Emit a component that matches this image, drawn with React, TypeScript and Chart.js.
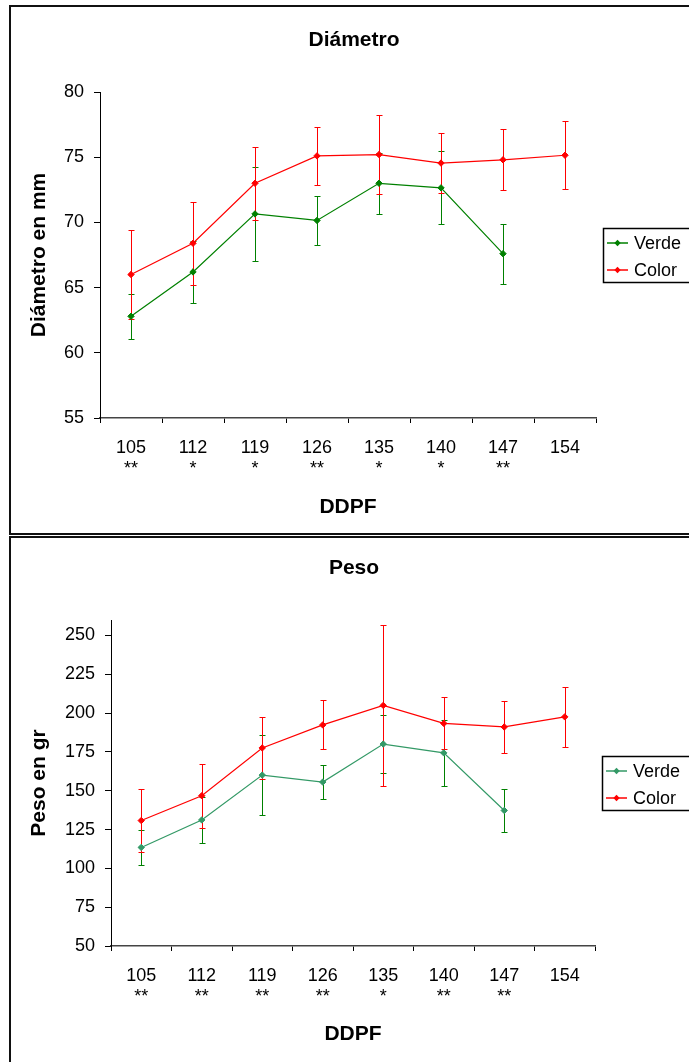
import React, { useEffect, useRef } from 'react';
import { Chart, registerables } from 'chart.js';

Chart.register(...registerables);

const FONT = "'Liberation Sans', Arial, sans-serif";

// ---------- DATA ----------
const categories = ['105', '112', '119', '126', '135', '140', '147', '154'];

// Diámetro (mm)
const diamSignif = ['**', '*', '*', '**', '*', '*', '**', ''];
const diamVerde = [62.8, 66.2, 70.65, 70.15, 73.0, 72.65, 67.6, null];
const diamVerdeErr = [1.73, 2.4, 3.6, 1.9, 2.35, 2.8, 2.3, null];
const diamColor = [66.0, 68.4, 73.0, 75.1, 75.2, 74.55, 74.8, 75.15];
const diamColorErr = [3.4, 3.2, 2.8, 2.2, 3.0, 2.3, 2.33, 2.6];
const diamTicks = [55, 60, 65, 70, 75, 80];

// Peso (gr)
const pesoSignif = ['**', '**', '**', '**', '*', '**', '**', ''];
const pesoVerde = [113.5, 131.2, 160.1, 155.6, 180.1, 174.4, 137.3, null];
const pesoVerdeErr = [11.3, 15.0, 26.0, 11.0, 18.5, 21.4, 14.1, null];
const pesoColor = [130.8, 146.8, 177.6, 192.4, 205.0, 193.4, 191.1, 197.6];
const pesoColorErr = [20.2, 20.7, 20.0, 15.8, 51.7, 16.7, 16.8, 19.5];
const pesoTicks = [50, 75, 100, 125, 150, 175, 200, 225, 250];

// ---------- PLUGINS ----------
const errorBarPlugin = {
  id: 'errorBars',
  beforeDatasetsDraw(chart: any) {
    const ctx = chart.ctx;
    const yScale = chart.scales.y;
    chart.data.datasets.forEach((ds: any, i: number) => {
      const meta = chart.getDatasetMeta(i);
      const errs = ds.errors || [];
      ctx.save();
      ctx.strokeStyle = ds.errorColor || ds.borderColor;
      ctx.lineWidth = 1;
      meta.data.forEach((pt: any, j: number) => {
        const v = ds.data[j];
        const e = errs[j];
        if (v == null || e == null) return;
        const x = Math.round(pt.x) + 0.5;
        const yt = Math.round(yScale.getPixelForValue(v + e)) + 0.5;
        const yb = Math.round(yScale.getPixelForValue(v - e)) + 0.5;
        ctx.beginPath();
        ctx.moveTo(x, yt);
        ctx.lineTo(x, yb);
        ctx.moveTo(x - 3, yt);
        ctx.lineTo(x + 3, yt);
        ctx.moveTo(x - 3, yb);
        ctx.lineTo(x + 3, yb);
        ctx.stroke();
      });
      ctx.restore();
    });
  },
};

const decorPlugin = {
  id: 'decor',
  afterDraw(chart: any, _args: any, opts: any) {
    const ctx = chart.ctx;
    const area = chart.chartArea;
    ctx.save();
    // chart title
    ctx.fillStyle = '#000';
    ctx.font = `bold 21px ${FONT}`;
    ctx.textAlign = 'center';
    ctx.textBaseline = 'middle';
    ctx.fillText(opts.title, opts.titleX, area.top - 52);

    // legend
    const lx = Math.round(area.right + 7);
    const ly = Math.round(area.top + 136);
    ctx.strokeStyle = '#000';
    ctx.lineWidth = 1.5;
    ctx.strokeRect(lx + 0.5, ly + 0.5, 140, 54);
    chart.data.datasets.forEach((ds: any, i: number) => {
      const cy = ly + 15 + i * 27;
      ctx.strokeStyle = ds.borderColor;
      ctx.lineWidth = 1.5;
      ctx.beginPath();
      ctx.moveTo(lx + 4, cy);
      ctx.lineTo(lx + 25, cy);
      ctx.stroke();
      ctx.fillStyle = ds.pointBackgroundColor;
      ctx.beginPath();
      const mx = lx + 14.5;
      ctx.moveTo(mx, cy - 3.2);
      ctx.lineTo(mx + 3.2, cy);
      ctx.lineTo(mx, cy + 3.2);
      ctx.lineTo(mx - 3.2, cy);
      ctx.closePath();
      ctx.fill();
      ctx.fillStyle = '#000';
      ctx.font = `18px ${FONT}`;
      ctx.textAlign = 'left';
      ctx.textBaseline = 'middle';
      ctx.fillText(ds.label, lx + 31, cy + 1);
    });
    ctx.restore();
  },
};

// ---------- CONFIG BUILDER ----------
function buildConfig(p: any) {
  const labels = categories.map((c, i) => (p.signif[i] ? [c, p.signif[i]] : c));
  const mkDs = (label: string, data: any[], errors: any[], color: string, errColor: string) => ({
    label,
    data,
    errors,
    errorColor: errColor,
    borderColor: color,
    backgroundColor: color,
    pointBackgroundColor: color,
    pointBorderColor: color,
    pointStyle: 'rectRot',
    pointRadius: 3.2,
    pointBorderWidth: 1,
    borderWidth: 1.2,
    tension: 0,
    spanGaps: false,
  });
  return {
    type: 'line',
    data: {
      labels,
      datasets: [
        mkDs('Verde', p.verde, p.verdeErr, p.verdeColor, '#008000'),
        mkDs('Color', p.color, p.colorErr, '#FF0000', '#FF0000'),
      ],
    },
    plugins: [errorBarPlugin, decorPlugin],
    options: {
      responsive: false,
      animation: false,
      events: [],
      layout: { padding: p.padding },
      plugins: {
        legend: { display: false },
        tooltip: { enabled: false },
        title: { display: false },
        decor: { title: p.title, titleX: p.titleX },
      },
      scales: {
        x: {
          type: 'category',
          offset: true,
          afterFit: (s: any) => {
            s.height = p.xHeight;
          },
          grid: { offset: true, drawOnChartArea: false, drawTicks: true, tickLength: 5, color: '#000', lineWidth: 1 },
          border: { display: true, color: '#444', width: 1.5 },
          ticks: { color: '#000', font: { family: FONT, size: 18 }, padding: 14, maxRotation: 0, autoSkip: false },
          title: {
            display: true,
            text: 'DDPF',
            color: '#000',
            font: { family: FONT, size: 21, weight: 'bold' },
            padding: { top: 0, bottom: 0 },
          },
        },
        y: {
          min: p.min,
          max: p.max,
          afterBuildTicks: (s: any) => {
            s.ticks = p.ticks.map((v: number) => ({ value: v }));
          },
          afterFit: (s: any) => {
            s.width = p.yWidth;
          },
          grid: { drawOnChartArea: false, drawTicks: true, tickLength: 6, color: '#000', lineWidth: 1 },
          border: { display: true, color: '#000', width: 1 },
          ticks: { color: '#000', font: { family: FONT, size: 18 }, padding: 10 },
          title: {
            display: true,
            text: p.yTitle,
            color: '#000',
            font: { family: FONT, size: 21, weight: 'bold' },
            padding: { top: 27, bottom: 0 },
          },
        },
      },
    },
  };
}

function ChartCanvas({ params, width, height, top }: any) {
  const ref = useRef<HTMLCanvasElement>(null);
  useEffect(() => {
    const chart = new Chart(ref.current as HTMLCanvasElement, buildConfig(params) as any);
    return () => chart.destroy();
  }, []);
  return (
    <canvas
      ref={ref}
      width={width}
      height={height}
      style={{ position: 'absolute', left: 0, top, width, height, display: 'block' }}
    />
  );
}

const diamParams = {
  title: 'Diámetro',
  titleX: 354,
  yTitle: 'Diámetro en mm',
  verde: diamVerde,
  verdeErr: diamVerdeErr,
  verdeColor: '#008000',
  color: diamColor,
  colorErr: diamColorErr,
  signif: diamSignif,
  ticks: diamTicks,
  min: 55,
  max: 80,
  yWidth: 100,
  xHeight: 102,
  padding: { left: 0, right: 93, top: 92, bottom: 14 },
};

const pesoParams = {
  title: 'Peso',
  titleX: 354,
  yTitle: 'Peso en gr',
  verde: pesoVerde,
  verdeErr: pesoVerdeErr,
  verdeColor: '#339966',
  color: pesoColor,
  colorErr: pesoColorErr,
  signif: pesoSignif,
  ticks: pesoTicks,
  min: 50,
  max: 260,
  yWidth: 111,
  xHeight: 101,
  padding: { left: 0, right: 94, top: 84, bottom: 15 },
};

export default function App() {
  return (
    <div
      style={{
        position: 'absolute',
        left: 0,
        top: 0,
        width: 689,
        height: 1062,
        overflow: 'hidden',
        background: '#fff',
      }}
    >
      <ChartCanvas params={diamParams} width={689} height={534} top={0} />
      <ChartCanvas params={pesoParams} width={689} height={526} top={536} />
      <div
        style={{
          position: 'absolute',
          left: 9,
          top: 5,
          width: 720,
          height: 530,
          border: '2px solid #111',
          boxSizing: 'border-box',
          pointerEvents: 'none',
        }}
      />
      <div
        style={{
          position: 'absolute',
          left: 9,
          top: 536,
          width: 720,
          height: 600,
          border: '2px solid #111',
          boxSizing: 'border-box',
          pointerEvents: 'none',
        }}
      />
    </div>
  );
}
